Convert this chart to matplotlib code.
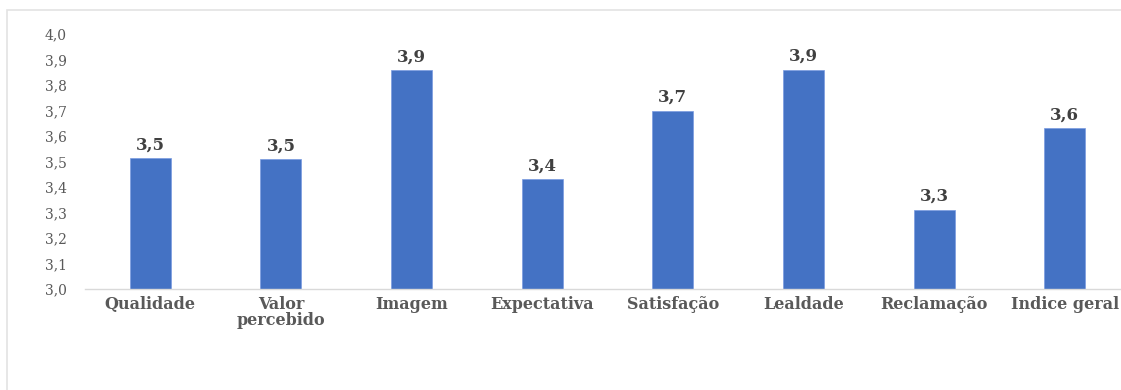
import matplotlib
matplotlib.use("Agg")
import matplotlib.pyplot as plt
from matplotlib.patches import Rectangle
from matplotlib.ticker import FuncFormatter, MultipleLocator
import numpy as np

# Mean scores per dimension
categories = ["Qualidade", "Valor\npercebido", "Imagem", "Expectativa",
              "Satisfação", "Lealdade", "Reclamação", "Indice geral"]
scores = [3.513, 3.508, 3.857, 3.43, 3.70, 3.86, 3.31, 3.63]
y_min, y_max, y_step = 3.0, 4.0, 0.1

BAR_COLOR = "#4472C4"
TICK_COLOR = "#595959"
LABEL_COLOR = "#404040"
AXIS_COLOR = "#d9d9d9"
FONT = ["DejaVu Serif"]

W, H = 1121, 390
fig = plt.figure(figsize=(W / 100, H / 100), dpi=100)

# Light outer frame around the chart area
fig.patches.append(Rectangle((6.5 / W, -0.2), 1.5, (H - 9.5) / H + 0.2,
                             transform=fig.transFigure, fill=False,
                             edgecolor="#e3e3e3", linewidth=1.2, zorder=0))

ax = fig.add_axes([85 / W, (H - 289) / H, 1045 / W, 255 / H])

x = np.arange(len(categories))
bars = ax.bar(x, scores, width=0.314, color=BAR_COLOR,
              edgecolor="#7a9be0", linewidth=0.5, zorder=2)

ax.set_xlim(-0.5, len(categories) - 0.5)
ax.set_ylim(y_min, y_max)
ax.yaxis.set_major_locator(MultipleLocator(y_step))
ax.yaxis.set_major_formatter(FuncFormatter(lambda v, _: f"{v:.1f}".replace(".", ",")))

ax.set_xticks(x)
ax.set_xticklabels(categories, fontfamily=FONT, fontweight="bold",
                   fontsize=11.5, color=TICK_COLOR, linespacing=0.9)
for lbl in ax.get_yticklabels():
    lbl.set_fontfamily(FONT)
    lbl.set_fontsize(10)
    lbl.set_color(TICK_COLOR)

ax.tick_params(axis="both", length=0)
ax.tick_params(axis="y", pad=13)
ax.tick_params(axis="x", pad=5)

for side in ("top", "right", "left"):
    ax.spines[side].set_visible(False)
ax.spines["bottom"].set_color(AXIS_COLOR)
ax.spines["bottom"].set_linewidth(1.0)

# Value labels above each bar
for xi, val in zip(x, scores):
    ax.annotate(f"{val:.1f}".replace(".", ","), xy=(xi, val),
                xytext=(0, 3.5), textcoords="offset points",
                ha="center", va="bottom", fontfamily=FONT,
                fontweight="bold", fontsize=12, color=LABEL_COLOR)

fig.savefig("out.png", dpi=100)
